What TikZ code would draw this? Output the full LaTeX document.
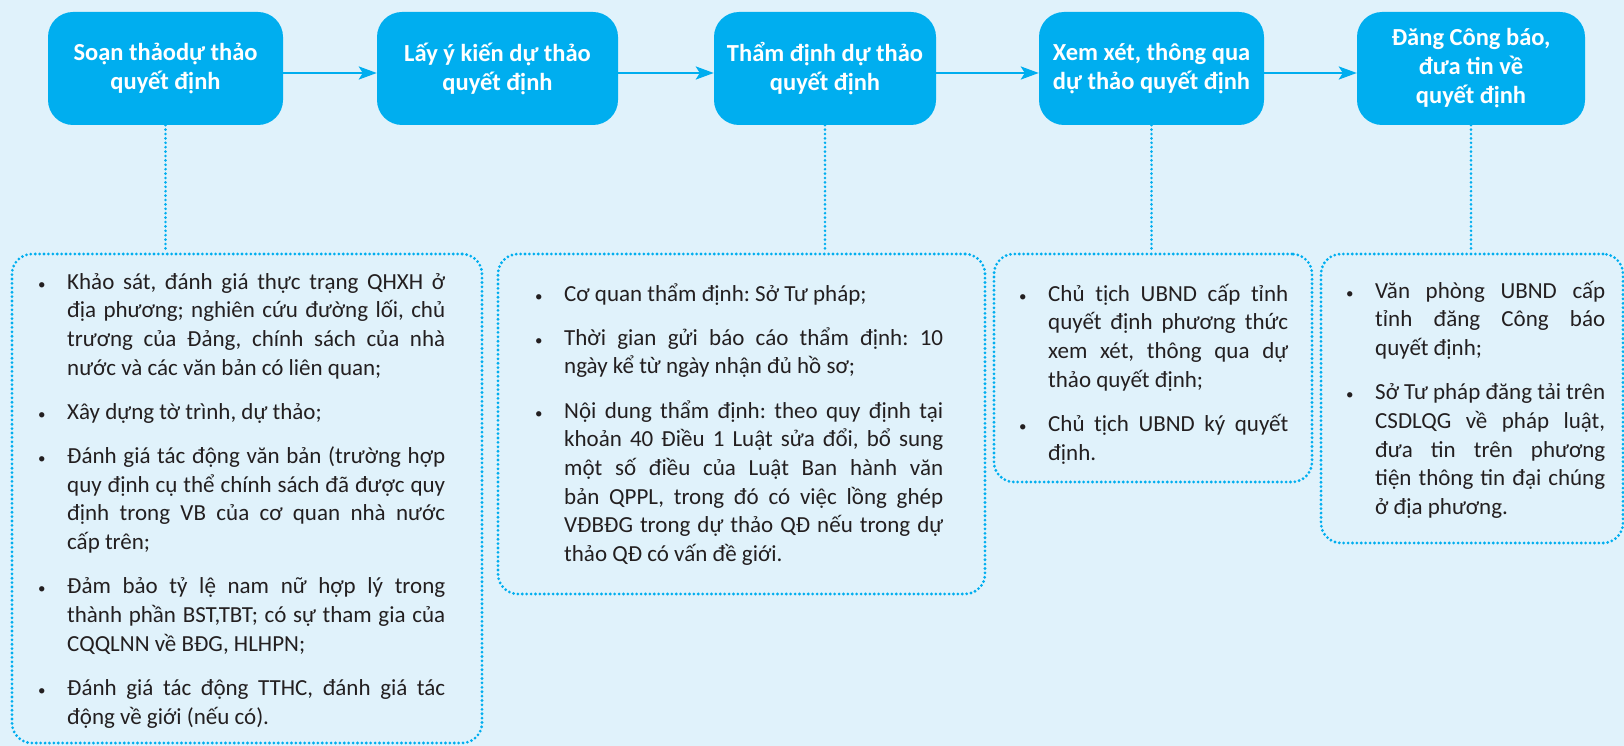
\documentclass[tikz,border=0pt]{standalone}
\usepackage{fontspec}
\setmainfont{Carlito}
\usetikzlibrary{arrows.meta}

\definecolor{bgpale}{RGB}{224,242,251}
\definecolor{stepcyan}{RGB}{0,174,239}
\definecolor{inkgray}{RGB}{35,31,32}

% one line of a note, spread to the full width / left as it is
\newcommand{\jl}[1]{\hbox to\hsize{#1}}
\newcommand{\lastln}[1]{\hbox to\hsize{#1\hfil}}
\newcommand{\bul}{\llap{\hbox to 29pt{\fontsize{15}{15}\selectfont\textbullet\hfil}}}
\newcommand{\gap}{\vskip 15.5pt}
\newcommand{\notefont}{\fontsize{23}{28.7}\selectfont\frenchspacing}

\tikzset{
  stepbox/.style={fill=stepcyan, rounded corners=25pt, minimum height=113pt,
    inner sep=0pt, text=white, align=center, font=\bfseries\fontsize{24.5}{29}\selectfont},
  notebox/.style={draw=stepcyan, line width=3.1pt, dash pattern=on 0pt off 4.4pt,
    line cap=round, rounded corners=20pt, inner sep=0pt},
  dotlink/.style={draw=stepcyan, line width=2.9pt, dash pattern=on 0pt off 4.4pt, line cap=round},
  flow/.style={draw=stepcyan, line width=2.6pt, -{Stealth[length=18pt,width=13pt,inset=4pt]}},
  notetext/.style={anchor=base west, inner sep=0pt, text=inkgray}
}

\begin{document}
\begin{tikzpicture}[x=1pt,y=-1pt]
\useasboundingbox (0,0) rectangle (1624,746);
\fill[bgpale] (0,0) rectangle (1624,746);

% steps
\node[stepbox, minimum width=235pt] (b1) at (165.5,68.5) {Soạn thảodự thảo\\quyết định};
\node[stepbox, minimum width=241pt] (b2) at (497.5,68.5) {Lấy ý kiến  dự thảo\\quyết định};
\node[stepbox, minimum width=222pt] (b3) at (825,68.5) {Thẩm định dự thảo\\quyết định};
\node[stepbox, minimum width=225pt] (b4) at (1151.5,68.5) {Xem xét, thông qua\\dự thảo quyết định};
\node[stepbox, minimum width=228pt] (b5) at (1471,68.5) {Đăng Công báo,\\đưa tin về\\quyết định};

\draw[flow] ([yshift=-4.5pt]b1.east) -- ([yshift=-4.5pt]b2.west);
\draw[flow] ([yshift=-4.5pt]b2.east) -- ([yshift=-4.5pt]b3.west);
\draw[flow] ([yshift=-4.5pt]b3.east) -- ([yshift=-4.5pt]b4.west);
\draw[flow] ([yshift=-4.5pt]b4.east) -- ([yshift=-4.5pt]b5.west);

% notes
\node[notebox, minimum width=470pt, minimum height=489pt] (d1) at (247,498.5) {};
\node[notebox, minimum width=487pt, minimum height=340pt] (d2) at (741.5,424) {};
\node[notebox, minimum width=318pt, minimum height=228pt] (d3) at (1153,368) {};
\node[notebox, minimum width=302pt, minimum height=289pt] (d4) at (1472,398.5) {};

\draw[dotlink] (b1.south) -- (b1.south |- d1.north);
\draw[dotlink] (b3.south) -- (b3.south |- d2.north);
\draw[dotlink] (b4.south) -- (b4.south |- d3.north);
\draw[dotlink] (b5.south) -- (b5.south |- d4.north);

\node[notetext] (t1) at (67,289) {\begin{minipage}[t]{378pt}\notefont
\jl{\bul Khảo sát, đánh giá thực trạng QHXH ở}
\jl{địa phương; nghiên cứu đường lối, chủ}
\jl{trương của Đảng, chính sách của nhà}
\lastln{nước và các văn bản có liên quan;}
\gap
\lastln{\bul Xây dựng tờ trình, dự thảo;}
\gap
\jl{\bul Đánh giá tác động văn bản (trường hợp}
\jl{quy định cụ thể chính sách đã được quy}
\jl{định trong VB của cơ quan nhà nước}
\lastln{cấp trên;}
\gap
\jl{\bul Đảm bảo tỷ lệ nam nữ hợp lý trong}
\jl{thành phần BST,TBT; có sự tham gia của}
\lastln{CQQLNN về BĐG, HLHPN;}
\gap
\jl{\bul Đánh giá tác động TTHC, đánh giá tác}
\lastln{động về giới (nếu có).}
\end{minipage}};

\node[notetext] (t2) at (564,301) {\begin{minipage}[t]{379pt}\notefont
\lastln{\bul Cơ quan thẩm định: Sở Tư pháp;}
\gap
\jl{\bul Thời gian gửi báo cáo thẩm định: 10}
\lastln{ngày kể từ ngày nhận đủ hồ sơ;}
\gap
\jl{\bul Nội dung thẩm định: theo quy định tại}
\jl{khoản 40 Điều 1 Luật sửa đổi, bổ sung}
\jl{một số điều của Luật Ban hành văn}
\jl{bản QPPL, trong đó có việc lồng ghép}
\jl{VĐBĐG trong dự thảo QĐ nếu trong dự}
\lastln{thảo QĐ có vấn đề giới.}
\end{minipage}};

\node[notetext] (t3) at (1048,301) {\begin{minipage}[t]{240pt}\notefont
\jl{\bul Chủ tịch UBND cấp tỉnh}
\jl{quyết định phương thức}
\jl{xem xét, thông qua dự}
\lastln{thảo quyết định;}
\gap
\jl{\bul Chủ tịch UBND ký quyết}
\lastln{định.}
\end{minipage}};

\node[notetext] (t4) at (1375,298) {\begin{minipage}[t]{230pt}\notefont
\jl{\bul Văn phòng UBND cấp}
\jl{tỉnh đăng Công báo}
\lastln{quyết định;}
\gap
\jl{\bul Sở Tư pháp đăng tải trên}
\jl{CSDLQG về pháp luật,}
\jl{đưa tin trên phương}
\jl{tiện thông tin đại chúng}
\lastln{ở địa phương.}
\end{minipage}};
\end{tikzpicture}
\end{document}
